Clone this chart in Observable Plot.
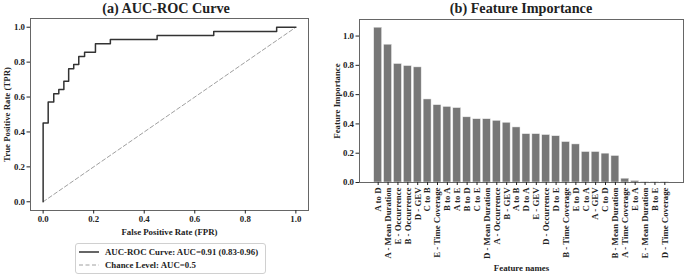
<!DOCTYPE html>
<html>
<head>
<meta charset="utf-8">
<script src="https://cdn.jsdelivr.net/npm/d3@7"></script>
<script src="https://cdn.jsdelivr.net/npm/@observablehq/plot@0.6"></script>
<style>
  body { margin: 0; background: #fff; }
  #wrap { position: relative; width: 685px; height: 277px; font-family: "Liberation Serif", serif; font-weight: bold; color: #222; }
  #wrap svg { position: absolute; left: 0; top: 0; }
  .title { position: absolute; top: 0px; line-height: 16.5px; font-size: 14.2px; font-weight: bold; text-align: center; width: 300px; white-space: nowrap; }
  .legend { position: absolute; left: 75px; top: 243px; width: 191px; height: 31px; border: 1px solid #d0d0d0; border-radius: 3px; box-sizing: border-box; font-size: 8.8px; }
  .legend .row { position: absolute; left: 3px; height: 10px; display: flex; align-items: center; white-space: nowrap; }
  .legend svg { position: static !important; margin-right: 6px; }
</style>
</head>
<body>
<div id="wrap"></div>
<script>
// ROC curve vertices
const fpr = [0, 0, 0.02, 0.02, 0.042, 0.042, 0.062, 0.062, 0.082, 0.082, 0.101, 0.101, 0.121, 0.121, 0.141, 0.141, 0.164, 0.164, 0.207, 0.207, 0.266, 0.266, 0.451, 0.451, 0.675, 0.675, 0.924, 0.924, 1.0];
const tpr = [0, 0.452, 0.452, 0.571, 0.571, 0.619, 0.619, 0.643, 0.643, 0.690, 0.690, 0.762, 0.762, 0.786, 0.786, 0.833, 0.833, 0.857, 0.857, 0.905, 0.905, 0.929, 0.929, 0.952, 0.952, 0.976, 0.976, 1.0, 1.0];
const chanceX = [0, 1];
const chanceY = [0, 1];
const rocTicks = [0, 0.2, 0.4, 0.6, 0.8, 1.0];

// Feature importance
const features = ["A to D", "A - Mean Duration", "E - Occurrence", "B - Occurrence", "D - GEV", "C to B", "E - Time Coverage", "B to A", "A to E", "B to D", "C to E", "D - Mean Duration", "A - Occurrence", "B - GEV", "A to B", "D to A", "E - GEV", "D - Occurrence", "D to E", "B - Time Coverage", "E to D", "C to A", "A - GEV", "C to D", "B - Mean Duration", "A - Time Coverage", "E to A", "E - Mean Duration", "B to E", "D - Time Coverage"];
const importance = [1.057, 0.941, 0.809, 0.795, 0.786, 0.567, 0.528, 0.516, 0.508, 0.445, 0.432, 0.432, 0.421, 0.408, 0.376, 0.330, 0.330, 0.324, 0.316, 0.276, 0.260, 0.208, 0.208, 0.197, 0.181, 0.026, 0.010, 0.003, 0.003, 0.003];
const fiTicks = [0, 0.2, 0.4, 0.6, 0.8, 1.0];

const roc = fpr.map((x, i) => ({x, y: tpr[i]}));
const chance = chanceX.map((x, i) => ({x, y: chanceY[i]}));
const fi = features.map((f, i) => ({f, v: importance[i]}));

const style = {fontFamily: "Liberation Serif, serif", fontWeight: "bold", fontSize: "8.8px", color: "#222", background: "transparent", overflow: "visible"};
const wrap = document.getElementById("wrap");

const left = Plot.plot({
  width: 685, height: 277,
  marginLeft: 30, marginRight: 377, marginTop: 18, marginBottom: 67,
  style,
  x: {domain: [-0.05, 1.05]},
  y: {domain: [-0.05, 1.05]},
  marks: [
    Plot.line(chance, {x: "x", y: "y", stroke: "#a0a0a0", strokeWidth: 1, strokeDasharray: "4,2.5"}),
    Plot.line(roc, {x: "x", y: "y", stroke: "#333", strokeWidth: 1.5}),
    Plot.frame({stroke: "#666", strokeWidth: 1}),
    Plot.axisX({ticks: rocTicks, tickFormat: d3.format(".1f"), tickSize: 3.5, tickPadding: 2, label: "False Positive Rate (FPR)", labelAnchor: "center", labelArrow: "none", labelOffset: 24}),
    Plot.axisY({ticks: rocTicks, tickFormat: d3.format(".1f"), tickSize: 3.5, tickPadding: 2, label: "True Positive Rate (TPR)", labelAnchor: "center", labelArrow: "none", labelOffset: 27})
  ]
});
wrap.appendChild(left);

const right = Plot.plot({
  width: 685, height: 277,
  marginLeft: 359, marginRight: 2, marginTop: 19, marginBottom: 95,
  style,
  x: {domain: features, paddingInner: 0.2, paddingOuter: 1.49, round: false},
  y: {domain: [0, 1.113]},
  marks: [
    Plot.barY(fi, {x: "f", y: "v", fill: "#777", stroke: "#eee", strokeWidth: 0.5}),
    Plot.frame({stroke: "#666", strokeWidth: 1}),
    Plot.axisX({tickRotate: -90, tickSize: 3, tickPadding: 2, label: "Feature names", labelAnchor: "center", labelArrow: "none", labelOffset: 88}),
    Plot.axisY({ticks: fiTicks, tickFormat: d3.format(".1f"), tickSize: 3.5, tickPadding: 2, label: "Feature Importance", labelAnchor: "center", labelArrow: "none", labelOffset: 26})
  ]
});
wrap.appendChild(right);

function addTitle(text, cx) {
  const d = document.createElement("div");
  d.className = "title";
  d.textContent = text;
  d.style.left = (cx - 150) + "px";
  wrap.appendChild(d);
}
addTitle("(a) AUC-ROC Curve", 166);
addTitle("(b) Feature Importance", 521);

const legend = document.createElement("div");
legend.className = "legend";
const entries = [
  {label: "AUC-ROC Curve: AUC=0.91 (0.83-0.96)", stroke: "#333", dash: null, w: 1.5, top: 3},
  {label: "Chance Level: AUC=0.5", stroke: "#a0a0a0", dash: "4,2.5", w: 1, top: 16}
];
for (const e of entries) {
  const row = document.createElement("div");
  row.className = "row";
  row.style.top = e.top + "px";
  const s = d3.create("svg").attr("width", 20).attr("height", 4);
  s.append("line").attr("x1", 0).attr("x2", 20).attr("y1", 2).attr("y2", 2)
    .attr("stroke", e.stroke).attr("stroke-width", e.w).attr("stroke-dasharray", e.dash);
  row.appendChild(s.node());
  const t = document.createElement("span");
  t.textContent = e.label;
  row.appendChild(t);
  legend.appendChild(row);
}
wrap.appendChild(legend);
</script>
</body>
</html>
